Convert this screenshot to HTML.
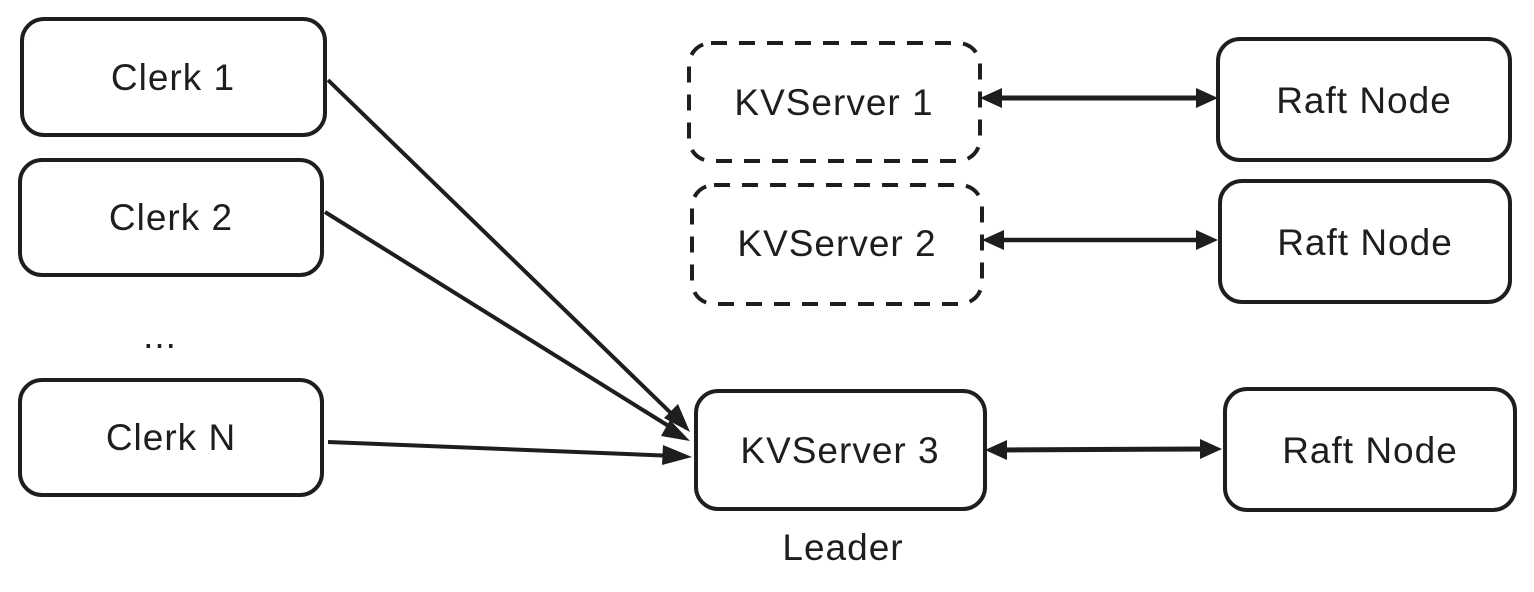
<!DOCTYPE html>
<html><head><style>
html,body{margin:0;padding:0;background:#fff;width:1534px;height:592px;overflow:hidden}
text{font-family:"Liberation Sans",sans-serif;font-size:37px;fill:#1e1e1e;letter-spacing:1px}
</style></head><body>
<svg width="1534" height="592" viewBox="0 0 1534 592" xmlns="http://www.w3.org/2000/svg">
<g fill="none" stroke="#1e1e1e" stroke-width="4">
<rect x="22" y="19" width="303" height="116" rx="22"/>
<rect x="20" y="160" width="302" height="115" rx="22"/>
<rect x="20" y="380" width="302" height="115" rx="22"/>
<rect x="689" y="43" width="291" height="118" rx="22" stroke-dasharray="16 12"/>
<rect x="692" y="185" width="290" height="119" rx="22" stroke-dasharray="16 12"/>
<rect x="696" y="391" width="289" height="118" rx="22"/>
<rect x="1218" y="39" width="292" height="121" rx="22"/>
<rect x="1220" y="181" width="290" height="121" rx="22"/>
<rect x="1225" y="389" width="290" height="121" rx="22"/>
<line x1="328" y1="80" x2="678" y2="420"/>
<line x1="325" y1="212" x2="675" y2="430"/>
<line x1="328" y1="442" x2="675" y2="456"/>
<line x1="995" y1="98" x2="1200" y2="98" stroke-width="5"/>
<line x1="995" y1="240" x2="1200" y2="240" stroke-width="4.5"/>
<line x1="1000" y1="450" x2="1205" y2="449" stroke-width="5"/>
</g>
<g fill="#1e1e1e">
<polygon points="690,432 664,418 678,404"/>
<polygon points="690,441 661,436 670,420"/>
<polygon points="692,457 662,465 663,445"/>
<polygon points="980,98 1002,88 1002,108"/>
<polygon points="1218,98 1196,88 1196,108"/>
<polygon points="982,240 1004,230 1004,250"/>
<polygon points="1218,240 1196,230 1196,250"/>
<polygon points="985,450 1007,440 1007,460"/>
<polygon points="1222,449 1200,439 1200,459"/>
</g>
<text x="173" y="90" text-anchor="middle">Clerk 1</text>
<text x="171" y="230" text-anchor="middle">Clerk 2</text>
<text x="171" y="450" text-anchor="middle">Clerk N</text>
<text x="160" y="348" text-anchor="middle">...</text>
<text x="834" y="115" text-anchor="middle">KVServer 1</text>
<text x="837" y="256" text-anchor="middle">KVServer 2</text>
<text x="840" y="463" text-anchor="middle">KVServer 3</text>
<text x="1364" y="113" text-anchor="middle">Raft Node</text>
<text x="1365" y="255" text-anchor="middle">Raft Node</text>
<text x="1370" y="463" text-anchor="middle">Raft Node</text>
<text x="843" y="560" text-anchor="middle">Leader</text>
</svg>
</body></html>
